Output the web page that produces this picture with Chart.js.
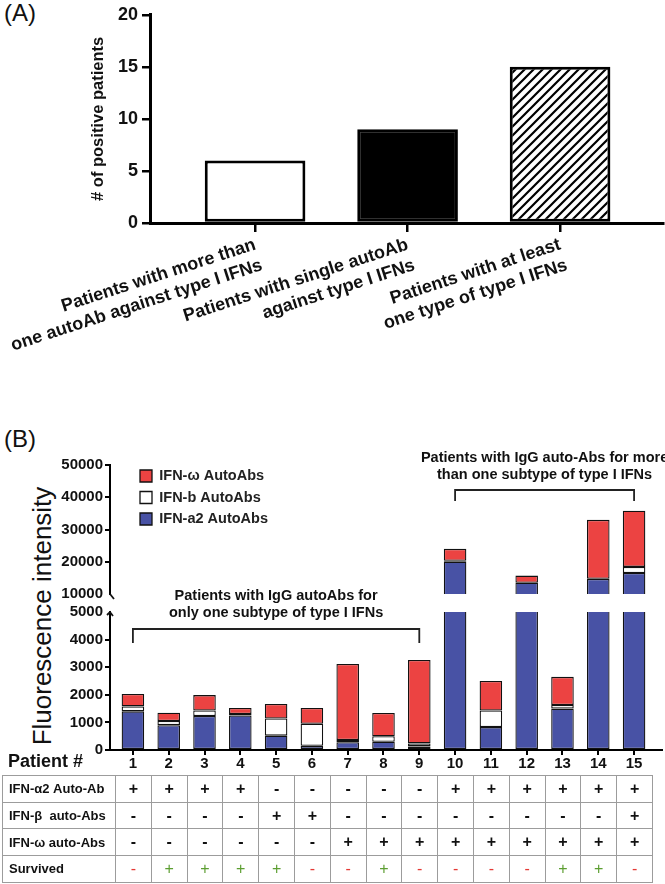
<!DOCTYPE html>
<html>
<head>
<meta charset="utf-8">
<script src="https://cdn.jsdelivr.net/npm/chart.js@4.4.1/dist/chart.umd.min.js"></script>
<style>
  html, body { margin: 0; padding: 0; background: #fff; }
  body { width: 665px; height: 884px; position: relative; overflow: hidden; font-family: "Liberation Sans", Arial, sans-serif; color: #111; }
  canvas { position: absolute; left: 0; }
  .tag { position: absolute; left: 4px; font-size: 24px; line-height: 1; }
  #ylabB { position: absolute; left: 42px; top: 616px; transform: translate(-50%, -50%) rotate(-90deg); font-size: 26px; white-space: nowrap; }
  #patientLab { position: absolute; left: 8px; top: 751px; font-size: 18px; font-weight: bold; }
  #tbl { position: absolute; left: 2px; top: 775px; border-collapse: collapse; table-layout: fixed; }
  #tbl td { border: 1px solid #9c9c9c; padding: 0; text-align: center; font-size: 16px; font-weight: bold; }
  #tbl tr { height: 26.7px; }
  #tbl td.name { text-align: left; padding-left: 6px; font-size: 13px; }
  #tbl td.dead { color: #e53935; font-weight: normal; }
  #tbl td.alive { color: #5c9e31; font-weight: normal; }
</style>
</head>
<body>
<div class="tag" style="top:1px">(A)</div>
<canvas id="chartA" width="665" height="390" style="top:0"></canvas>
<div class="tag" style="top:427px">(B)</div>
<div id="ylabB">Fluorescence intensity</div>
<canvas id="chartTop" width="665" height="170" style="top:440px"></canvas>
<canvas id="chartBottom" width="665" height="200" style="top:580px"></canvas>
<div id="patientLab">Patient #</div>
<table id="tbl"></table>

<script>
// ---- panel A data
const groupsA = [
  ["Patients with more than", "one autoAb against type I IFNs"],
  ["Patients with single autoAb", "against type I IFNs"],
  ["Patients with at least", "one type of type I IFNs"]
];
const positiveA = [6, 9, 15];

// ---- panel B data (stacked per patient)
const patients = ["1","2","3","4","5","6","7","8","9","10","11","12","13","14","15"];
const ifnA2 = [1400, 900, 1230, 1250, 520, 150, 280, 300, 130, 20000, 830, 13500, 1500, 14700, 16500];
const ifnB  = [180, 150, 200, 50, 620, 800, 80, 200, 110, 300, 600, 0, 130, 0, 1900];
const ifnW  = [450, 300, 560, 220, 530, 570, 2760, 840, 3020, 3700, 1070, 2200, 1020, 18300, 17400];
const upperTicks = [10000, 20000, 30000, 40000, 50000];
const lowerTicks = [0, 1000, 2000, 3000, 4000, 5000];

// ---- table data
const rowNames = ["IFN-\u03b12 Auto-Ab", "IFN-\u03b2\u00a0 auto-Abs", "IFN-\u03c9 auto-Abs", "Survived"];
const rowA2  = ["+","+","+","+","-","-","-","-","-","+","+","+","+","+","+"];
const rowB   = ["-","-","-","-","+","+","-","-","-","-","-","-","-","-","+"];
const rowW   = ["-","-","-","-","-","-","+","+","+","+","+","+","+","+","+"];
const rowSurv = ["-","+","+","+","+","-","-","+","-","-","-","-","+","+","-"];

const RED = "#ec4342";
const BLUE = "#4852a5";
const FONT = '"Liberation Sans", Arial, sans-serif';
Chart.defaults.font.family = FONT;
Chart.defaults.color = "#111";
Chart.defaults.animation = false;

// ---------- panel A ----------
const canA = document.getElementById("chartA");
function hatchPattern(ctx) {
  const t = document.createElement("canvas");
  t.width = 9; t.height = 9;
  const g = t.getContext("2d");
  g.fillStyle = "#fff"; g.fillRect(0, 0, 9, 9);
  g.strokeStyle = "#000"; g.lineWidth = 2.2;
  g.beginPath();
  g.moveTo(-2, 11); g.lineTo(11, -2);
  g.moveTo(-2, 2); g.lineTo(2, -2);
  g.moveTo(7, 11); g.lineTo(11, 7);
  g.stroke();
  return ctx.createPattern(t, "repeat");
}

new Chart(canA, {
  type: "bar",
  data: {
    datasets: [{
      data: positiveA.map((v, i) => ({ x: i + 1, y: v })),
      backgroundColor: ["#fff", "#000", hatchPattern(canA.getContext("2d"))],
      borderColor: "#000",
      borderWidth: 3,
      borderSkipped: false,
      barPercentage: 0.66,
      categoryPercentage: 1
    }]
  },
  options: {
    responsive: false,
    layout: { padding: { left: 85, top: 13, right: 2, bottom: 0 } },
    plugins: { legend: { display: false }, tooltip: { enabled: false } },
    scales: {
      x: {
        type: "linear", min: 0.311, max: 3.675, offset: false,
        grid: { offset: false, drawOnChartArea: false, tickLength: 9, color: "#000", lineWidth: 2.5 },
        border: { color: "#000", width: 3 },
        ticks: {
          stepSize: 1, includeBounds: false, autoSkip: false,
          minRotation: 18, maxRotation: 18, padding: 2,
          font: { size: 18, weight: "bold" },
          callback: v => groupsA[v - 1] || ""
        },
        // long rotated labels may run to the page edge, so they must not push the plot area
        afterFit: s => { s.height = 390 - 223; s.paddingLeft = 0; s.paddingRight = 0; }
      },
      y: {
        min: 0, max: 20,
        ticks: { stepSize: 5, padding: 4, font: { size: 18, weight: "bold" } },
        grid: { drawOnChartArea: false, tickLength: 8, color: "#000", lineWidth: 2.5 },
        border: { color: "#000", width: 3 },
        title: { display: true, text: "# of positive patients", font: { size: 16.5, weight: "bold" }, padding: { top: 4, bottom: 4 } },
        afterFit: s => { s.width = 65; }
      }
    }
  }
});

// ---------- panel B ----------
const X_MIN = 0.36, X_MAX = 15.78;

function stackSets() {
  return [
    { label: "IFN-a2 AutoAbs", data: ifnA2, backgroundColor: BLUE },
    { label: "IFN-b AutoAbs", data: ifnB, backgroundColor: "#fff" },
    { label: "IFN-\u03c9 AutoAbs", data: ifnW, backgroundColor: RED }
  ].map(d => Object.assign(d, {
    borderColor: "#111", borderWidth: 1.3, borderSkipped: false,
    barPercentage: 0.63, categoryPercentage: 1
  }));
}

function bracket(id, from, to, lines, textY, barY, legY) {
  return {
    id: id,
    afterDraw(chart) {
      const ctx = chart.ctx, xs = chart.scales.x;
      const x1 = xs.getPixelForValue(from), x2 = xs.getPixelForValue(to);
      ctx.save();
      ctx.strokeStyle = "#222"; ctx.lineWidth = 1.8;
      ctx.beginPath();
      ctx.moveTo(x1, legY); ctx.lineTo(x1, barY); ctx.lineTo(x2, barY); ctx.lineTo(x2, legY);
      ctx.stroke();
      ctx.fillStyle = "#111";
      ctx.font = "bold 14.5px " + FONT;
      ctx.textAlign = "center"; ctx.textBaseline = "middle";
      lines.forEach((t, i) => ctx.fillText(t, (x1 + x2) / 2, textY + i * 16.5));
      ctx.restore();
    }
  };
}

function breakMark(id, atTop) {
  return {
    id: id,
    afterDraw(chart) {
      const ctx = chart.ctx, a = chart.chartArea;
      ctx.save();
      ctx.strokeStyle = "#111"; ctx.lineWidth = 1.8;
      ctx.beginPath();
      if (atTop) { ctx.moveTo(a.left - 3, a.top + 3); ctx.lineTo(a.left, a.top); ctx.lineTo(a.left + 3, a.top + 4); }
      else { ctx.moveTo(a.left, a.bottom); ctx.lineTo(a.left + 4, a.bottom + 5); }
      ctx.stroke();
      ctx.restore();
    }
  };
}

const legendShift = {
  id: "legendShift",
  afterLayout(chart) {
    const l = chart.legend;
    if (l) { l.left += 23; l.right += 23; l.top -= 7; l.bottom -= 7; }
  }
};

function yAxis(min, max, step, hideVal) {
  return {
    min: min, max: max, stacked: true,
    afterBuildTicks: s => { s.ticks = (min === 0 ? lowerTicks : upperTicks).map(v => ({ value: v })); },
    ticks: { stepSize: step, padding: 2, font: { size: 15, weight: "bold" }, callback: v => String(v) },
    grid: {
      drawOnChartArea: false, tickLength: 5, lineWidth: 2,
      color: c => (c.tick && c.tick.value === hideVal) ? "rgba(0,0,0,0)" : "#000"
    },
    border: { color: "#000", width: 2 },
    afterFit: s => { s.width = 110; }
  };
}

// upper part of the broken axis
new Chart(document.getElementById("chartTop"), {
  type: "bar",
  data: { labels: patients, datasets: stackSets() },
  options: {
    responsive: false,
    layout: { padding: { left: 0, top: 25, right: 3, bottom: 16 } },
    plugins: {
      tooltip: { enabled: false },
      legend: {
        position: "chartArea", reverse: true,
        labels: { boxWidth: 12, boxHeight: 12, padding: 7, color: "#222", font: { size: 14.5, weight: "bold" } }
      }
    },
    scales: {
      x: { type: "linear", min: X_MIN, max: X_MAX, offset: false, stacked: true, display: false },
      y: yAxis(10000, 50000, 10000, 10000)
    }
  },
  plugins: [legendShift, breakMark("brkTop", false),
    bracket("brTop", 10, 15, ["Patients with IgG auto-Abs for more", "than one subtype of type I IFNs"], 18, 50, 61)]
});

// lower part of the broken axis
new Chart(document.getElementById("chartBottom"), {
  type: "bar",
  data: { labels: patients, datasets: stackSets() },
  options: {
    responsive: false,
    layout: { padding: { left: 0, top: 32, right: 3, bottom: 0 } },
    plugins: { tooltip: { enabled: false }, legend: { display: false } },
    scales: {
      x: {
        type: "linear", min: X_MIN, max: X_MAX, offset: false, stacked: true,
        grid: { offset: false, drawOnChartArea: false, tickLength: 5, color: "#000", lineWidth: 2 },
        border: { color: "#000", width: 2 },
        ticks: { stepSize: 1, includeBounds: false, autoSkip: false, maxRotation: 0, padding: 0, font: { size: 15, weight: "bold" } },
        afterFit: s => { s.height = 30; }
      },
      y: yAxis(0, 5000, 1000, 5000)
    }
  },
  plugins: [breakMark("brkBot", true),
    bracket("brBot", 1, 9, ["Patients with IgG autoAbs for", "only one subtype of type I IFNs"], 16, 49, 63)]
});

// ---------- table ----------
const tbl = document.getElementById("tbl");
const cg = document.createElement("colgroup");
cg.innerHTML = '<col style="width:113px">' + patients.map(() => '<col style="width:35.8px">').join("");
tbl.appendChild(cg);
[rowA2, rowB, rowW, rowSurv].forEach((row, r) => {
  const tr = document.createElement("tr");
  const th = document.createElement("td");
  th.className = "name"; th.textContent = rowNames[r];
  tr.appendChild(th);
  row.forEach(s => {
    const td = document.createElement("td");
    td.textContent = s;
    if (r === 3) td.className = s === "+" ? "alive" : "dead";
    tr.appendChild(td);
  });
  tbl.appendChild(tr);
});
tbl.style.width = (113 + 35.8 * patients.length) + "px";
</script>
</body>
</html>
